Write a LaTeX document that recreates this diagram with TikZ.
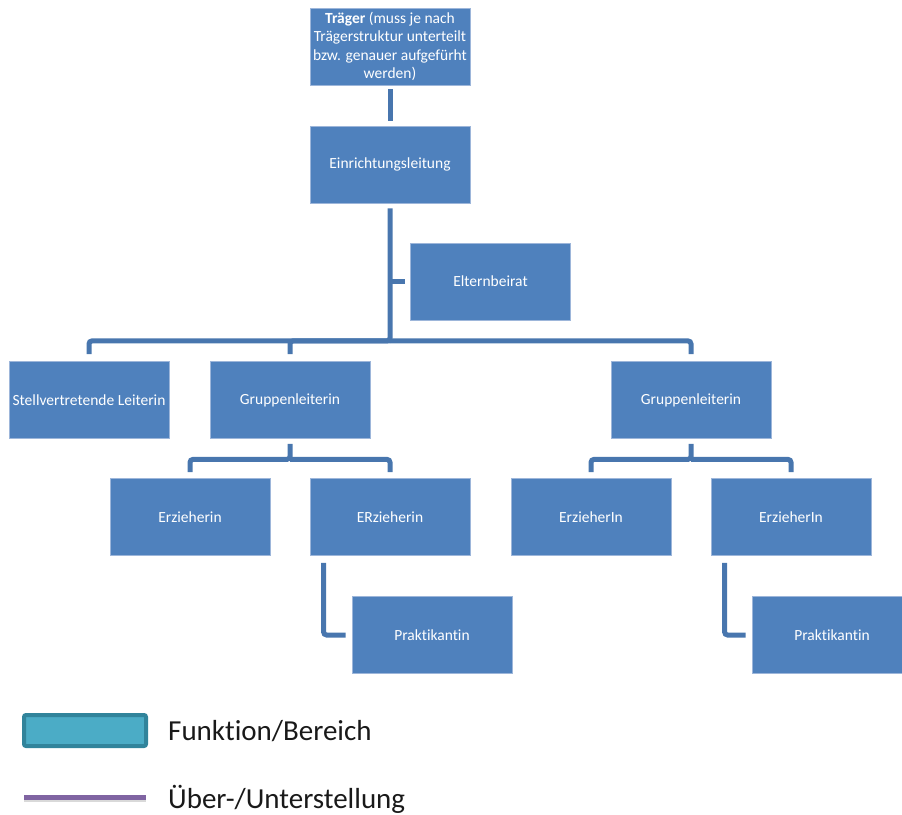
\documentclass[tikz,border=0pt]{standalone}
\usepackage{fontspec}
\setmainfont{Carlito}[Ligatures=NoCommon]
\definecolor{boxfill}{HTML}{4F81BD}
\definecolor{boxedge}{HTML}{9DB6DA}
\definecolor{conn}{HTML}{4876AE}
\definecolor{legfill}{HTML}{4BACC6}
\definecolor{legedge}{HTML}{31849B}
\definecolor{legline}{HTML}{8064A2}
\begin{document}
\begin{tikzpicture}[x=1pt,y=-1pt,
  orgbox/.style={rectangle,fill=boxfill,draw=boxedge,line width=0.8pt,
    minimum width=160pt,minimum height=77pt,inner sep=0pt,text=white,
    font=\fontsize{15.5}{19}\selectfont,align=center},
  link/.style={draw=conn,line width=5pt,rounded corners=3pt},
  legtext/.style={anchor=west,inner sep=0pt,font=\fontsize{29}{34}\selectfont,text=black!90}]
\useasboundingbox (0,0) rectangle (902,814);
\clip (0,0) rectangle (902,814);
% boxes
\node[orgbox] (traeger) at (390,46.5) {\textbf{Träger} (muss je nach\\[-0.5pt]Trägerstruktur unterteilt\\[-0.5pt]bzw. genauer aufgefürht\\[-0.5pt]werden)};
\node[orgbox] (leitung) at (390,164.5) {Einrichtungsleitung};
\node[orgbox] (eltern) at (490.5,281.5) {Elternbeirat};
\node[orgbox] (stell) at (89,400) {Stellvertretende Leiterin};
\node[orgbox] (gl1) at (290,400) {Gruppenleiterin};
\node[orgbox] (gl2) at (691,400) {Gruppenleiterin};
\node[orgbox] (e1) at (190,517) {Erzieherin};
\node[orgbox] (e2) at (390,517) {ERzieherin};
\node[orgbox] (e3) at (591,517) {ErzieherIn};
\node[orgbox] (e4) at (791,517) {ErzieherIn};
\node[orgbox] (p1) at (432,635) {Praktikantin};
\node[orgbox] (p2) at (832,635) {Praktikantin};
% connectors (canvas yshift: positive = up)
\draw[link,rounded corners=0pt,shorten <=4pt,shorten >=5pt] (traeger.south) -- (leitung.north);
\draw[link,shorten <=5pt] (leitung.south) -- ++(0,137.5) -| ([yshift=7pt]stell.north);
\draw[link] ([yshift=-137.5pt]leitung.south) -| ([yshift=7pt]gl1.north);
\draw[link] ([yshift=-137.5pt]leitung.south) -| ([yshift=7pt]gl2.north);
\draw[link,rounded corners=0pt,shorten >=5pt] (leitung.south |- eltern.west) -- (eltern.west);
\draw[link,shorten <=5pt] (gl1.south) -- ++(0,20.5) -| ([yshift=6pt]e1.north);
\draw[link] ([yshift=-20.5pt]gl1.south) -| ([yshift=6pt]e2.north);
\draw[link,shorten <=5pt] (gl2.south) -- ++(0,20.5) -| ([yshift=6pt]e3.north);
\draw[link] ([yshift=-20.5pt]gl2.south) -| ([yshift=6pt]e4.north);
\draw[link] ([xshift=14pt,yshift=-7pt]e2.south west) |- ([xshift=-6pt]p1.west);
\draw[link] ([xshift=14pt,yshift=-7pt]e4.south west) |- ([xshift=-6pt]p2.west);
% legend
\node[rectangle,fill=legfill,draw=legedge,line width=4pt,rounded corners=2pt,
  minimum width=122pt,minimum height=31pt,inner sep=0pt] (legbox) at (85,730.5) {};
\node[legtext] (legbt) at (168,731.5) {Funktion/Bereich};
\coordinate (la) at (24,797.5);
\coordinate (lb) at (146,797.5);
\draw[line width=4pt,black!15] ([yshift=-2.5pt]la) -- ([yshift=-2.5pt]lb);
\draw[line width=4.5pt,legline] (la) -- (lb);
\node[legtext] (leglt) at (168,799) {Über-/Unterstellung};
\end{tikzpicture}
\end{document}
